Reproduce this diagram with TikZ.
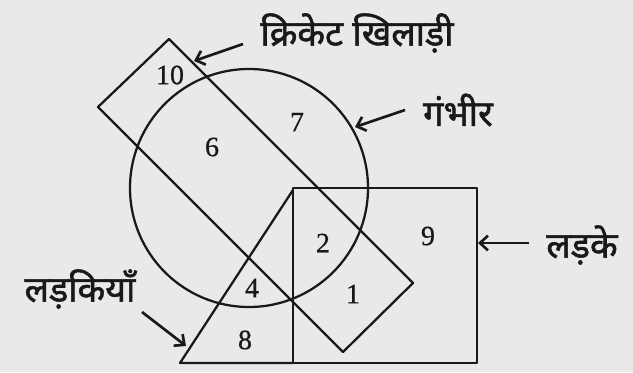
\documentclass[tikz,border=0pt]{standalone}
\usepackage{fontspec}
\setmainfont{Liberation Serif}
\newfontfamily\deva[Script=Devanagari,FakeBold=1.5]{Noto Sans}
\newfontfamily\numfont[FakeBold=0.6]{Liberation Serif}
\usetikzlibrary{arrows.meta}
\definecolor{bgpaper}{RGB}{233,233,231}
\definecolor{ink}{RGB}{25,25,25}
\tikzset{
  shape line/.style={draw=ink, line width=1.7pt, line join=round},
  num/.style={font=\numfont\fontsize{21}{21}\selectfont, text=ink, inner sep=0pt},
  lbl/.style={font=\deva\fontsize{27}{27}\selectfont, text=ink, inner sep=0pt},
  pointer/.style={draw=ink, line width=2pt, -{Straight Barb[length=6pt,width=11pt,line width=2pt]}}
}
\begin{document}
\begin{tikzpicture}[x=0.75pt,y=-0.75pt]
\fill[bgpaper] (0,0) rectangle (633,372);
\useasboundingbox (0,0) rectangle (633,372);
% shapes
\draw[shape line] (249,188) circle [radius=119];
\draw[shape line] (169,39) -- (413,283) -- (343,352) -- (98,107) -- cycle;
\draw[shape line] (293,188) rectangle (477,363);
\draw[shape line] (293,190) -- (180,363) -- (293,363);
% numbers
\node[num] (n10) at (170,75) {10};
\node[num] (n7) at (297,122) {7};
\node[num] (n6) at (212,147) {6};
\node[num] (n2) at (323,243) {2};
\node[num] (n9) at (428,236) {9};
\node[num] (n4) at (252,288) {4};
\node[num] (n1) at (353,294) {1};
\node[num] (n8) at (245,340) {8};
% labels
\node[lbl] (cricket) at (357,33) {क्रिकेट खिलाड़ी};
\node[lbl] (gambhir) at (458,110) {गंभीर};
\node[lbl] (ladke) at (582,245) {लड़के};
\node[lbl] (ladkiyan) at (80,289) {लड़कियाँ};
% arrow targets
\coordinate (tc) at (194,61);
\coordinate (tg) at (355,127);
\coordinate (tl) at (478,243);
\coordinate (tk) at (186,346);
\coordinate (sc) at (243,44);
\coordinate (sg) at (405,110);
\coordinate (sl) at (529,243);
\coordinate (sk) at (142,312);
\draw[pointer] (sc) -- (tc);
\draw[pointer] (sg) -- (tg);
\draw[pointer] (sl) -- (tl);
\draw[pointer] (sk) -- (tk);
\end{tikzpicture}
\end{document}
